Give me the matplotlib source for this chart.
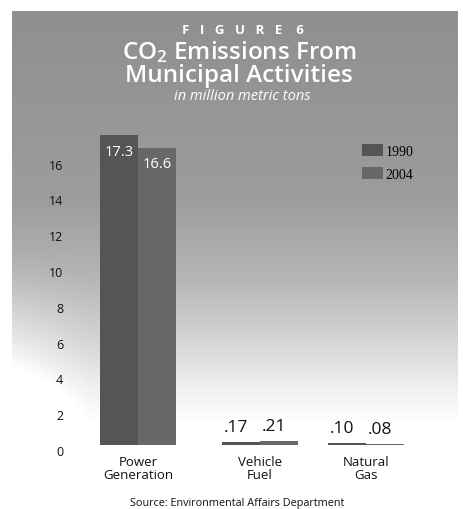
import numpy as np
import matplotlib
matplotlib.use("Agg")
import matplotlib.pyplot as plt
from matplotlib.transforms import ScaledTranslation

# ---- data ----
categories = ["Power\nGeneration", "Vehicle\nFuel", "Natural\nGas"]
years = ["1990", "2004"]
values_1990 = [17.3, 0.17, 0.10]
values_2004 = [16.6, 0.21, 0.08]
y_ticks = [0, 2, 4, 6, 8, 10, 12, 14, 16]

# ---- layout (pixel units of a 463x510 canvas) ----
W, H = 463, 510
panel_left, panel_right, panel_top, panel_bottom = 12, 458, 12, 446
group_centers = [138, 260, 366]
bar_w = 38
px_per_unit = 17.9

FONT = ["Open Sans", "DejaVu Sans"]
plt.rcParams["font.family"] = FONT
plt.rcParams["mathtext.default"] = "regular"

fig = plt.figure(figsize=(W / 100, H / 100), dpi=100)
fig.patch.set_facecolor("white")


def fx(px):
    return px / W


def fy(py):
    return 1 - py / H


# gray panel fading to white toward the bottom
bg = fig.add_axes([fx(panel_left), fy(panel_bottom), fx(panel_right - panel_left),
                   (panel_bottom - panel_top) / H])
rows = np.arange(panel_top, panel_bottom)
stops_y = [12, 200, 280, 340, 390, 425, 446]
stops_v = [0.56, 0.61, 0.71, 0.83, 0.94, 1.0, 1.0]
shade = np.interp(rows, stops_y, stops_v)
cols = np.arange(panel_left, panel_right)
side = np.clip((90 - cols) / 80, 0, 1)
lower = np.clip((rows - 250) / 150, 0, 1)
img = shade[:, None] + 0.14 * lower[:, None] * side[None, :]
bg.imshow(np.clip(img, 0, 1), cmap="gray", vmin=0, vmax=1, aspect="auto",
          interpolation="bilinear")
bg.set_axis_off()

# main chart axes
ax = fig.add_axes([fx(panel_left), fy(panel_bottom), fx(panel_right - panel_left),
                   (panel_bottom - panel_top) / H])
ax.patch.set_visible(False)
ax.set_xlim(panel_left, panel_right)
ax.set_ylim(0, (panel_bottom - panel_top) / px_per_unit)
for s in ax.spines.values():
    s.set_visible(False)

centers = np.array(group_centers, dtype=float)
b1 = ax.bar(centers - bar_w / 2, values_1990, width=bar_w, color="#555555",
            label=years[0], zorder=3)
b2 = ax.bar(centers + bar_w / 2, values_2004, width=bar_w, color="#686868",
            label=years[1], zorder=3)


def fmt(v):
    return f"{v:.1f}" if v >= 1 else f"{v:.2f}".lstrip("0")


for bars, vals in ((b1, values_1990), (b2, values_2004)):
    for rect, v in zip(bars, vals):
        cx = rect.get_x() + rect.get_width() / 2
        if v >= 1:
            ax.annotate(fmt(v), (cx, v), xytext=(0, -6), textcoords="offset points",
                        ha="center", va="top", color="white", fontsize=10.5, zorder=4)
        else:
            ax.annotate(fmt(v), (cx - 5, v), xytext=(0, 5), textcoords="offset points",
                        ha="center", va="bottom", color="#111111", fontsize=12.5,
                        zorder=4)

# axis ticks
ax.set_xticks(centers)
ax.set_xticklabels(categories, fontsize=9.5, linespacing=1.0, color="#111111")
ax.tick_params(axis="x", length=0, pad=7)

ax.set_yticks(y_ticks)
ax.set_yticklabels([str(t) for t in y_ticks], fontsize=9, color="#111111")
ax.tick_params(axis="y", length=0, pad=-37)
shift = ScaledTranslation(0, -5 / 100, fig.dpi_scale_trans)
for lab in ax.get_yticklabels():
    lab.set_transform(lab.get_transform() + shift)

# legend
leg = ax.legend(handles=[b1, b2], loc="upper left",
                bbox_to_anchor=(fx(362), fy(145)), bbox_transform=fig.transFigure,
                frameon=False, handlelength=1.5, handleheight=0.95,
                handletextpad=0.2, labelspacing=0.7, borderpad=0, borderaxespad=0,
                prop={"family": "Liberation Serif", "size": 10})

# titles
fig.text(fx(243), fy(30), "F   I   G   U   R   E    6", ha="center", va="center",
         color="white", fontsize=9.5, fontweight="bold")
fig.text(fx(239), fy(52), "CO$_2$ Emissions From", ha="center", va="center",
         color="white", fontsize=17.5, fontweight="semibold")
fig.text(fx(239), fy(76), "Municipal Activities", ha="center", va="center",
         color="white", fontsize=17.5, fontweight="semibold")
fig.text(fx(242), fy(97), "in million metric tons", ha="center", va="center",
         color="white", fontsize=10.5, fontstyle="italic")

fig.text(fx(237), fy(504), "Source: Environmental Affairs Department",
         ha="center", va="center", color="#111111", fontsize=7.8)

fig.savefig("out.png", dpi=100)
